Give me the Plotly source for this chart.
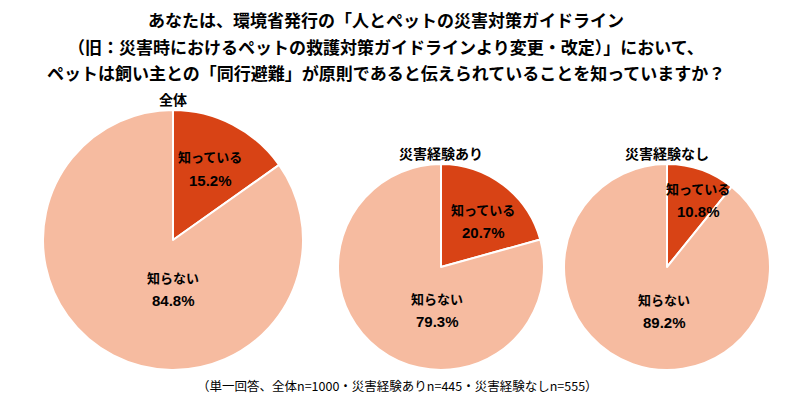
import plotly.graph_objects as go

groups = ["全体", "災害経験あり", "災害経験なし"]
answers = ["知っている", "知らない"]
know = [15.2, 20.7, 10.8]
dont_know = [84.8, 79.3, 89.2]

title_lines = [
    "あなたは、環境省発行の「人とペットの災害対策ガイドライン",
    "（旧：災害時におけるペットの救護対策ガイドラインより変更・改定）」において、",
    "ペットは飼い主との「同行避難」が原則であると伝えられていることを知っていますか？",
]
note = "（単一回答、全体n=1000・災害経験ありn=445・災害経験なしn=555）"

W, H = 800, 399
colors = ["#D84315", "#F6BBA0"]
JP = "Noto Sans CJK JP"

# pie layout in pixels: (cx, cy, r)
geo = [(173, 240, 130), (441, 267, 103), (667, 267, 103)]
# label offsets (pixels) relative to centre for know / dont_know labels
lab_know = [(37, -72), (42, -47), (31, -68)]
lab_dont = [(0, 48), (-4, 42), (-3, 43)]


def A(x, y, text, font):
    return dict(x=x / W, y=1 - y / H, text=text, showarrow=False, xref="paper", yref="paper",
                xanchor="center", yanchor="middle", font=font)


fig = go.Figure()
ann = []
for i, g in enumerate(groups):
    cx, cy, r = geo[i]
    fig.add_trace(go.Pie(
        labels=answers, values=[know[i], dont_know[i]],
        sort=False, direction="clockwise", rotation=0,
        marker=dict(colors=colors, line=dict(color="white", width=2)),
        textinfo="none", hoverinfo="label+percent", showlegend=False,
        domain=dict(x=[(cx - r) / W, (cx + r) / W], y=[1 - (cy + r) / H, 1 - (cy - r) / H]),
    ))
    ann.append(A(cx, cy - r - 11, "<b>%s</b>" % g, dict(family=JP, size=14, color="black")))
    for (dx, dy), name, v in [(lab_know[i], answers[0], know[i]), (lab_dont[i], answers[1], dont_know[i])]:
        ann.append(A(cx + dx, cy + dy - 11, "<b>%s</b>" % name, dict(family=JP, size=13, color="black")))
        ann.append(A(cx + dx, cy + dy + 12, "<b>%.1f%%</b>" % v,
                     dict(family="Liberation Sans, Arial", size=15, color="black")))

for k, line in enumerate(title_lines):
    ann.append(A(386, 19 + 27 * k, "<b>%s</b>" % line, dict(family=JP, size=17, color="black")))
ann.append(A(397, 385, note, dict(family=JP, size=12.5, color="black")))

fig.update_layout(width=W, height=H, margin=dict(l=0, r=0, t=0, b=0),
                  paper_bgcolor="white", plot_bgcolor="white", annotations=ann)
fig.write_html("out.html", config={"displayModeBar": False},
               post_script="document.body.style.margin='0';")
